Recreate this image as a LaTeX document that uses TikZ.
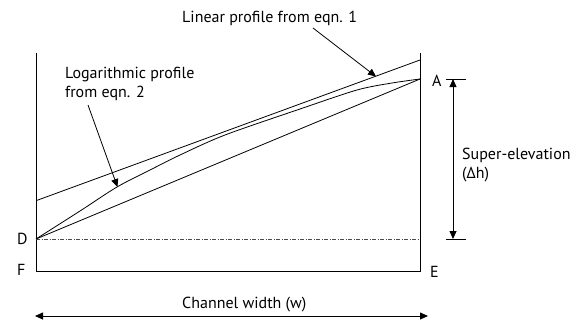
\documentclass[tikz,border=0pt]{standalone}
\usepackage{fontspec}
\setmainfont{PT Sans}
\usetikzlibrary{arrows.meta}
\tikzset{
  ln/.style={line width=0.8pt, black},
  lbl/.style={inner sep=0pt, anchor=base west, font=\fontsize{16}{19}\selectfont},
  arr/.style={ln, -{Triangle[length=8pt,width=7pt]}},
  darr/.style={ln, {Triangle[length=8pt,width=7pt]}-{Triangle[length=8pt,width=7pt]}},
  dashdot/.style={line width=0.6pt, black!70, dash pattern=on 4pt off 1.5pt on 1pt off 1.5pt}
}
\begin{document}
\begin{tikzpicture}[x=1pt,y=-1pt]
\useasboundingbox (0,0) rectangle (584,325);
% frame points
\coordinate (LT) at (36,53);
\coordinate (F0) at (36,271);
\coordinate (E0) at (420,271);
\coordinate (RT) at (420,53);
\coordinate (D0) at (36,239);
\coordinate (A0) at (420,79);
\coordinate (DR) at (420,239);
\coordinate (L1) at (36,200.7);
\coordinate (L2) at (420,60);
% channel walls
\draw[ln] (LT) -- (F0) -- (E0) -- (RT);
% water level at D
\draw[dashdot] (D0) -- (DR);
% linear profile
\draw[ln] (L1) -- (L2);
% straight line D-A
\draw[ln] (D0) -- (A0);
% logarithmic profile
\draw[ln] plot[smooth, tension=0.5] coordinates {(36,239) (80,211) (117,187) (150,170) (180,155) (225,135) (300,109) (357,90) (392,83) (420,79)};
% labels
\node[lbl] (lin) at (182,22) {Linear profile from eqn. 1};
\node[lbl] (logt) at (65,78) {Logarithmic profile};
\node[lbl] (logt2) at (65,97) {from eqn. 2};
\node[lbl] (A) at (432,86) {A};
\node[lbl] (D) at (17,244) {D};
\node[lbl] (F) at (17,275) {F};
\node[lbl] (E) at (430,277) {E};
\node[lbl] (se1) at (462,159) {Super-elevation};
\node[lbl] (se2) at (462,178) {(Δh)};
\node[lbl] (cw) at (182,308) {Channel width (w)};
% leaders
\coordinate (linS) at (313,28);
\coordinate (linT) at (376,76.5);
\draw[arr] (linS) -- (linT);
\coordinate (logS) at (88,105);
\coordinate (logT) at (117.5,187);
\draw[arr] (logS) -- (logT);
% super-elevation dimension
\coordinate (t1a) at (446,79);
\coordinate (t1b) at (466,79);
\coordinate (t2a) at (446,239);
\coordinate (t2b) at (466,239);
\draw[ln] (t1a) -- (t1b);
\draw[ln] (t2a) -- (t2b);
\coordinate (s1) at (453,79);
\coordinate (s2) at (453,239);
\draw[darr] (s1) -- (s2);
% channel width arrow
\coordinate (w1) at (35,316);
\coordinate (w2) at (428,316);
\draw[darr] (w1) -- (w2);
\end{tikzpicture}
\end{document}
